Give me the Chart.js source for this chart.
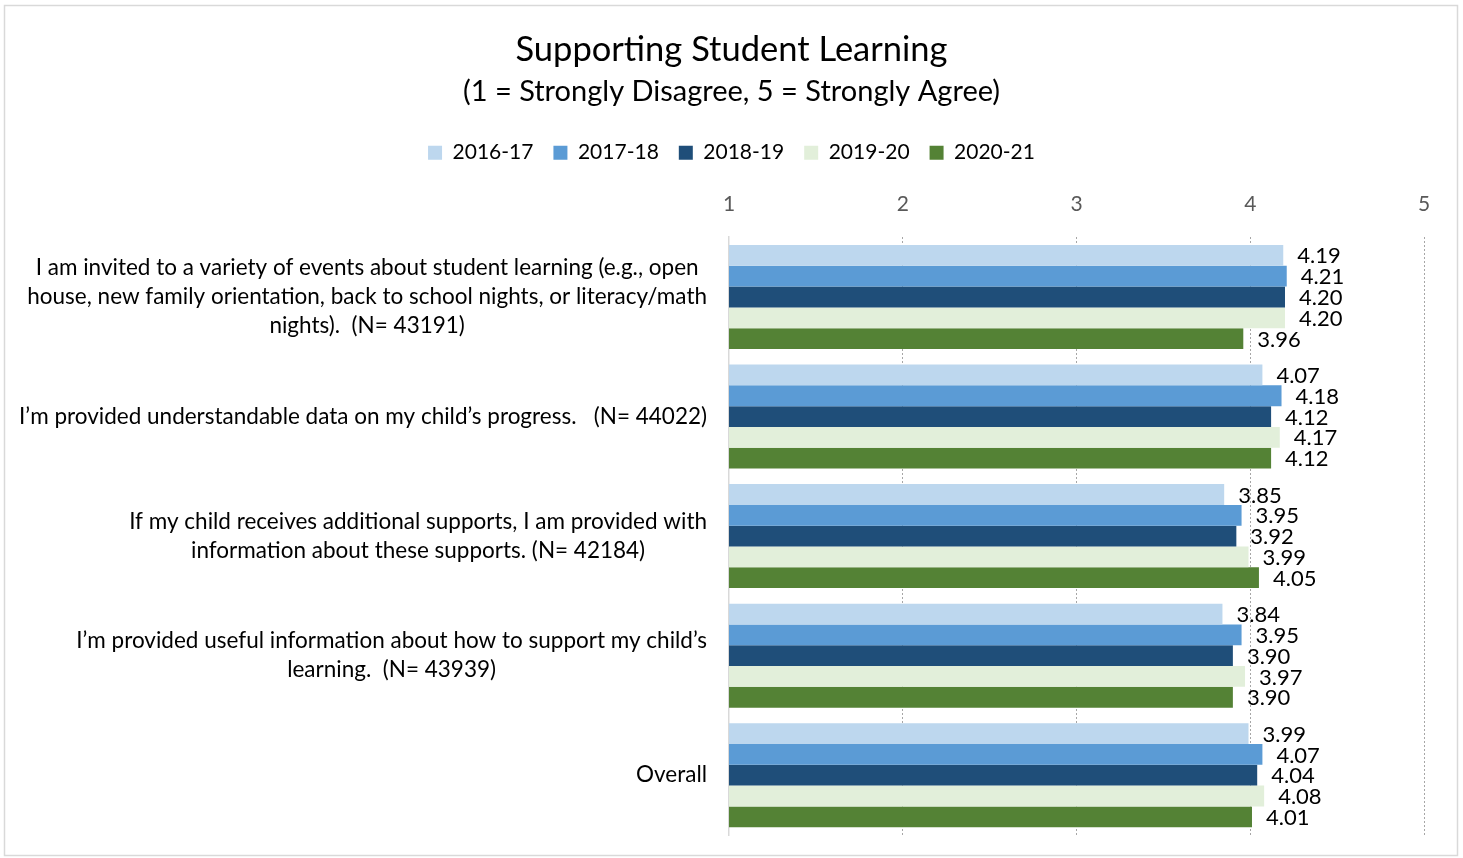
<!DOCTYPE html>
<html>
<head>
<meta charset="utf-8">
<script src="https://cdn.jsdelivr.net/npm/chart.js@4/dist/chart.umd.min.js"></script>
<style>
  html, body { margin: 0; padding: 0; background: #fff; }
  #wrap { position: relative; width: 1463px; height: 858px; }
</style>
</head>
<body>
<div id="wrap"><canvas id="chart"></canvas></div>
<script>
// data
const categories = [
  ['I am invited to a variety of events about student learning (e.g., open',
   'house, new family orientation, back to school nights, or literacy/math',
   'nights).  (N= 43191)'],
  ['I\u2019m provided understandable data on my child\u2019s progress.   (N= 44022)'],
  ['If my child receives additional supports, I am provided with',
   'information about these supports. (N= 42184)'],
  ['I\u2019m provided useful information about how to support my child\u2019s',
   'learning.  (N= 43939)'],
  ['Overall'],
];
const seriesNames = ['2016-17', '2017-18', '2018-19', '2019-20', '2020-21'];
const seriesColors = ['#BDD7EE', '#5B9BD5', '#1F4E79', '#E2EFDA', '#548235'];
const y2016 = [4.19, 4.07, 3.85, 3.84, 3.99];
const y2017 = [4.21, 4.18, 3.95, 3.95, 4.07];
const y2018 = [4.20, 4.12, 3.92, 3.90, 4.04];
const y2019 = [4.20, 4.17, 3.99, 3.97, 4.08];
const y2020 = [3.96, 4.12, 4.05, 3.90, 4.01];
const xTicks = [1, 2, 3, 4, 5];

const FONT = 'Lato, "Open Sans", sans-serif';

// frame around the whole picture
const framePlugin = {
  id: 'frame',
  beforeDraw(chart) {
    const ctx = chart.ctx;
    ctx.save();
    ctx.fillStyle = '#fff';
    ctx.fillRect(0, 0, chart.width, chart.height);
    ctx.strokeStyle = '#d9d9d9';
    ctx.lineWidth = 1.5;
    ctx.strokeRect(4.5, 5.5, 1453, 850);
    ctx.restore();
  }
};

// category labels, each block centred on its widest line, block right-aligned
const catLabelPlugin = {
  id: 'catLabels',
  afterDraw(chart) {
    const ctx = chart.ctx;
    const yScale = chart.scales.y;
    const right = chart.chartArea.left - 22;
    const lh = 29;
    ctx.save();
    ctx.font = '22.5px ' + FONT;
    ctx.fillStyle = '#000';
    ctx.textAlign = 'center';
    ctx.textBaseline = 'middle';
    categories.forEach((lines, i) => {
      const cy = yScale.getPixelForValue(i);
      const w = Math.max(...lines.map(l => ctx.measureText(l).width));
      const cx = right - w / 2;
      const y0 = cy - (lines.length - 1) * lh / 2;
      lines.forEach((l, j) => ctx.fillText(l, cx, y0 + j * lh));
    });
    ctx.restore();
  }
};

// value labels at the end of each bar
const valueLabelPlugin = {
  id: 'valueLabels',
  afterDatasetsDraw(chart) {
    const ctx = chart.ctx;
    ctx.save();
    ctx.font = '22px ' + FONT;
    ctx.fillStyle = '#000';
    ctx.textAlign = 'left';
    ctx.textBaseline = 'middle';
    chart.data.datasets.forEach((ds, di) => {
      chart.getDatasetMeta(di).data.forEach((bar, i) => {
        ctx.fillText(ds.data[i].toFixed(2), bar.x + 14, bar.y + 1);
      });
    });
    ctx.restore();
  }
};

const allSeries = [y2016, y2017, y2018, y2019, y2020];

new Chart(document.getElementById('chart'), {
  type: 'bar',
  data: {
    labels: categories.map(c => c.join(' ')),
    datasets: allSeries.map((vals, i) => ({
      label: seriesNames[i],
      data: vals,
      backgroundColor: seriesColors[i],
      borderWidth: 0,
      barPercentage: 1.0,
      categoryPercentage: 0.87,
    })),
  },
  options: {
    indexAxis: 'y',
    responsive: true,
    maintainAspectRatio: false,
    animation: false,
    layout: { padding: { left: 39, right: 39, top: 0, bottom: 23 } },
    plugins: {
      title: {
        display: true,
        text: 'Supporting Student Learning',
        color: '#000',
        font: { size: 34.5, family: FONT, weight: 'normal' },
        padding: { top: 29, bottom: 4 },
      },
      subtitle: {
        display: true,
        text: '(1 = Strongly Disagree, 5 = Strongly Agree)',
        color: '#000',
        font: { size: 29, family: FONT, weight: 'normal' },
        padding: { top: 0, bottom: 13 },
      },
      legend: {
        position: 'top',
        labels: {
          color: '#000',
          boxWidth: 14,
          boxHeight: 14,
          padding: 20,
          font: { size: 21, family: FONT },
        },
      },
      tooltip: { enabled: false },
    },
    scales: {
      x: {
        position: 'top',
        min: 1,
        max: 5,
        z: 1,
        afterBuildTicks: (scale) => { scale.ticks = xTicks.map(v => ({ value: v })); },
        ticks: {
          color: '#595959',
          padding: 20,
          font: { size: 21, family: FONT },
        },
        grid: {
          color: (c) => c.tick && c.tick.value === 1 ? 'rgba(0,0,0,0)' : '#a6a6a6',
          lineWidth: 1,
          drawTicks: false,
        },
        border: { display: false, dash: [2, 2] },
        afterFit: (scale) => { scale.height = 64; },
      },
      y: {
        ticks: { display: false },
        grid: { display: false },
        border: { display: true, color: '#d9d9d9', width: 1.5 },
        afterFit: (scale) => { scale.width = 690; },
      },
    },
  },
  plugins: [framePlugin, catLabelPlugin, valueLabelPlugin],
});
</script>
</body>
</html>
